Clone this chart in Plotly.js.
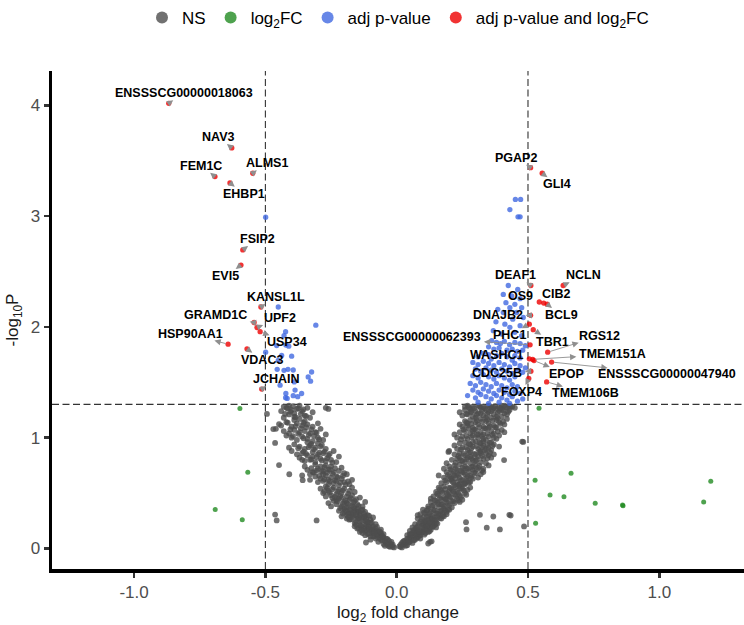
<!DOCTYPE html>
<html>
<head>
<meta charset="utf-8">
<script src="https://cdn.plot.ly/plotly-3.0.1.min.js"></script>
<style>html,body{margin:0;padding:0;background:#fff;}#chart{width:744px;height:625px;}</style>
</head>
<body>
<div id="chart"></div>
<script>
// ---------------- DATA ----------------
const fcCutoff = 0.5;
const pCutoff = 0.05;

// Not significant (grey) [log2FC, -log10P]
const nsPts = [
// left arm
[-0.01,0.01],[-0.02,0.03],[-0.03,0.02],[-0.04,0.05],[-0.05,0.04],[-0.03,0.07],[-0.06,0.08],[-0.05,0.10],[-0.07,0.06],[-0.08,0.09],[-0.02,0.06],[-0.04,0.09],[-0.09,0.11],[-0.06,0.12],[-0.10,0.08],
[-0.05,0.13],[-0.07,0.15],[-0.09,0.14],[-0.11,0.13],[-0.08,0.18],[-0.10,0.17],[-0.12,0.16],[-0.06,0.17],[-0.13,0.19],[-0.11,0.20],[-0.09,0.20],[-0.14,0.15],[-0.07,0.12],[-0.15,0.18],[-0.12,0.12],[-0.10,0.11],[-0.08,0.16],[-0.13,0.14],[-0.06,0.14],[-0.16,0.20],[-0.11,0.18],[-0.09,0.17],[-0.14,0.21],[-0.12,0.22],[-0.10,0.23],
[-0.08,0.22],[-0.10,0.26],[-0.12,0.25],[-0.14,0.24],[-0.16,0.23],[-0.18,0.26],[-0.13,0.28],[-0.15,0.29],[-0.11,0.30],[-0.17,0.31],[-0.19,0.30],[-0.14,0.32],[-0.16,0.34],[-0.12,0.33],[-0.20,0.33],[-0.18,0.35],[-0.09,0.28],[-0.21,0.29],[-0.15,0.27],[-0.17,0.28],[-0.13,0.35],[-0.16,0.36],[-0.19,0.27],[-0.11,0.24],[-0.14,0.30],[-0.20,0.36],[-0.22,0.34],[-0.12,0.29],[-0.18,0.32],[-0.15,0.33],
[-0.13,0.38],[-0.15,0.40],[-0.17,0.39],[-0.19,0.37],[-0.21,0.38],[-0.23,0.40],[-0.16,0.43],[-0.18,0.44],[-0.20,0.42],[-0.22,0.45],[-0.24,0.43],[-0.26,0.41],[-0.14,0.46],[-0.17,0.48],[-0.19,0.47],[-0.21,0.50],[-0.23,0.49],[-0.25,0.48],[-0.27,0.47],[-0.18,0.52],[-0.20,0.54],[-0.22,0.53],[-0.24,0.55],[-0.26,0.52],[-0.28,0.50],[-0.16,0.51],[-0.15,0.36],[-0.25,0.38],[-0.12,0.42],[-0.29,0.54],[-0.21,0.46],[-0.23,0.44],[-0.19,0.41],[-0.27,0.56],[-0.17,0.55],
[-0.18,0.58],[-0.20,0.60],[-0.22,0.57],[-0.24,0.59],[-0.26,0.58],[-0.28,0.61],[-0.30,0.60],[-0.21,0.63],[-0.23,0.65],[-0.25,0.64],[-0.27,0.66],[-0.29,0.63],[-0.31,0.65],[-0.33,0.62],[-0.19,0.67],[-0.22,0.70],[-0.24,0.69],[-0.26,0.71],[-0.28,0.70],[-0.30,0.72],[-0.32,0.69],[-0.34,0.71],[-0.25,0.74],[-0.27,0.75],[-0.29,0.74],[-0.31,0.76],[-0.21,0.73],[-0.35,0.74],[-0.23,0.61],[-0.17,0.62],[-0.33,0.67],[-0.36,0.66],[-0.20,0.68],[-0.26,0.62],[-0.28,0.67],
[-0.23,0.78],[-0.25,0.80],[-0.27,0.79],[-0.29,0.81],[-0.31,0.78],[-0.33,0.80],[-0.35,0.79],[-0.37,0.82],[-0.26,0.84],[-0.28,0.86],[-0.30,0.85],[-0.32,0.87],[-0.34,0.84],[-0.36,0.86],[-0.38,0.85],[-0.40,0.88],[-0.27,0.90],[-0.29,0.92],[-0.31,0.91],[-0.33,0.93],[-0.35,0.90],[-0.37,0.92],[-0.39,0.94],[-0.24,0.88],[-0.41,0.91],[-0.30,0.95],[-0.34,0.96],[-0.22,0.83],[-0.36,0.80],[-0.32,0.83],
[-0.28,0.98],[-0.30,1.00],[-0.32,0.97],[-0.34,0.99],[-0.36,1.01],[-0.38,0.98],[-0.40,1.00],[-0.42,1.02],[-0.31,1.05],[-0.33,1.04],[-0.35,1.06],[-0.37,1.05],[-0.39,1.07],[-0.41,1.04],[-0.43,1.06],[-0.29,1.08],[-0.32,1.10],[-0.34,1.12],[-0.36,1.11],[-0.38,1.13],[-0.40,1.10],[-0.44,1.11],[-0.27,1.03],[-0.30,1.13],[-0.35,1.15],[-0.39,1.16],[-0.46,1.08],[-0.42,1.14],
[-0.33,1.18],[-0.35,1.20],[-0.37,1.17],[-0.39,1.19],[-0.41,1.21],[-0.43,1.18],[-0.36,1.24],[-0.38,1.26],[-0.40,1.25],[-0.42,1.27],[-0.44,1.24],[-0.34,1.27],[-0.37,1.29],[-0.41,1.29],[-0.43,1.28],[-0.39,1.22],[-0.32,1.23],[-0.27,1.27],[-0.26,1.26],
[-0.494,1.215],[-0.448,1.123],[-0.470,1.078],[-0.463,0.953],[-0.448,0.753],[-0.409,0.670],[-0.358,0.617],[-0.463,0.306],[-0.457,0.253],[-0.305,0.253],[-0.117,0.054],
[-0.015,0.015],[-0.025,0.045],[-0.035,0.035],[-0.045,0.065],[-0.055,0.075],[-0.065,0.095],[-0.035,0.085],[-0.075,0.105],[-0.015,0.035],[-0.025,0.015],[-0.045,0.025],[-0.085,0.115],
[-0.055,0.115],[-0.075,0.135],[-0.095,0.155],[-0.115,0.165],[-0.065,0.155],[-0.085,0.145],[-0.105,0.135],[-0.125,0.175],[-0.135,0.205],[-0.095,0.185],[-0.075,0.195],[-0.145,0.185],[-0.115,0.215],[-0.105,0.195],[-0.135,0.165],[-0.155,0.215],
[-0.095,0.235],[-0.115,0.265],[-0.135,0.255],[-0.155,0.245],[-0.175,0.265],[-0.125,0.285],[-0.145,0.275],[-0.165,0.295],[-0.185,0.315],[-0.105,0.295],[-0.125,0.315],[-0.145,0.335],[-0.165,0.325],[-0.195,0.345],[-0.175,0.345],[-0.135,0.345],[-0.205,0.315],[-0.155,0.305],[-0.185,0.285],[-0.115,0.245],
[-0.145,0.385],[-0.165,0.415],[-0.185,0.395],[-0.205,0.405],[-0.225,0.425],[-0.245,0.455],[-0.175,0.455],[-0.195,0.435],[-0.215,0.475],[-0.235,0.465],[-0.255,0.505],[-0.185,0.495],[-0.205,0.525],[-0.225,0.515],[-0.245,0.535],[-0.265,0.545],[-0.165,0.375],[-0.215,0.365],[-0.155,0.445],[-0.275,0.515],
[-0.195,0.575],[-0.215,0.595],[-0.235,0.615],[-0.255,0.605],[-0.275,0.625],[-0.295,0.655],[-0.225,0.645],[-0.245,0.675],[-0.265,0.685],[-0.285,0.695],[-0.305,0.705],[-0.235,0.725],[-0.255,0.715],[-0.275,0.735],[-0.315,0.685],[-0.325,0.725],[-0.205,0.655],[-0.185,0.605],
[-0.245,0.775],[-0.265,0.815],[-0.285,0.795],[-0.305,0.825],[-0.325,0.805],[-0.345,0.855],[-0.275,0.875],[-0.295,0.865],[-0.315,0.895],[-0.335,0.915],[-0.355,0.875],[-0.375,0.905],[-0.255,0.855],[-0.285,0.935],[-0.325,0.945],
[-0.295,0.985],[-0.315,1.015],[-0.335,1.025],[-0.355,0.995],[-0.375,1.035],[-0.395,1.015],[-0.325,1.075],[-0.345,1.095],[-0.365,1.085],[-0.385,1.105],[-0.405,1.075],[-0.415,1.135],[-0.355,1.135],[-0.305,1.045],
[-0.345,1.195],[-0.365,1.215],[-0.385,1.185],[-0.405,1.235],[-0.425,1.215],[-0.375,1.265],[-0.395,1.285],[-0.355,1.255],[-0.415,1.265],
// right arm
[0.01,0.02],[0.02,0.01],[0.03,0.04],[0.04,0.03],[0.05,0.06],[0.03,0.07],[0.06,0.05],[0.07,0.08],[0.04,0.09],[0.08,0.10],[0.05,0.10],[0.02,0.05],[0.06,0.11],[0.09,0.09],[0.07,0.12],
[0.04,0.12],[0.06,0.14],[0.08,0.13],[0.10,0.15],[0.05,0.16],[0.07,0.17],[0.09,0.16],[0.11,0.18],[0.13,0.17],[0.06,0.19],[0.08,0.20],[0.10,0.19],[0.12,0.21],[0.14,0.20],[0.09,0.12],[0.11,0.14],[0.07,0.15],[0.13,0.22],[0.15,0.19],[0.10,0.22],[0.08,0.17],[0.12,0.15],[0.05,0.13],[0.14,0.23],[0.11,0.23],
[0.07,0.22],[0.09,0.24],[0.11,0.25],[0.13,0.24],[0.15,0.26],[0.08,0.27],[0.10,0.28],[0.12,0.29],[0.14,0.28],[0.16,0.30],[0.18,0.29],[0.09,0.31],[0.11,0.32],[0.13,0.33],[0.15,0.32],[0.17,0.34],[0.19,0.33],[0.10,0.35],[0.12,0.36],[0.14,0.35],[0.16,0.37],[0.18,0.36],[0.13,0.27],[0.17,0.27],[0.11,0.21],[0.20,0.35],[0.15,0.23],[0.08,0.30],[0.19,0.31],[0.12,0.26],
[0.12,0.38],[0.14,0.39],[0.16,0.40],[0.18,0.38],[0.20,0.39],[0.22,0.41],[0.13,0.42],[0.15,0.43],[0.17,0.44],[0.19,0.42],[0.21,0.43],[0.23,0.45],[0.25,0.44],[0.14,0.47],[0.16,0.48],[0.18,0.46],[0.20,0.47],[0.22,0.49],[0.24,0.48],[0.26,0.50],[0.15,0.51],[0.17,0.52],[0.19,0.50],[0.21,0.53],[0.23,0.52],[0.25,0.54],[0.27,0.53],[0.16,0.55],[0.18,0.56],[0.20,0.55],[0.22,0.57],[0.24,0.56],[0.26,0.58],[0.17,0.40],[0.19,0.45],[0.21,0.37],[0.13,0.45],[0.24,0.42],[0.28,0.55],[0.20,0.51],
[0.17,0.59],[0.19,0.60],[0.21,0.61],[0.23,0.60],[0.25,0.62],[0.27,0.61],[0.29,0.63],[0.18,0.64],[0.20,0.65],[0.22,0.66],[0.24,0.64],[0.26,0.67],[0.28,0.66],[0.30,0.68],[0.32,0.67],[0.19,0.69],[0.21,0.70],[0.23,0.71],[0.25,0.69],[0.27,0.72],[0.29,0.71],[0.31,0.73],[0.33,0.72],[0.20,0.74],[0.22,0.75],[0.24,0.76],[0.26,0.74],[0.28,0.77],[0.30,0.76],[0.32,0.78],[0.34,0.77],[0.18,0.72],[0.16,0.66],[0.26,0.59],[0.31,0.64],[0.23,0.68],[0.27,0.65],[0.21,0.63],[0.29,0.74],[0.25,0.73],[0.35,0.75],[0.19,0.77],[0.28,0.60],[0.33,0.69],[0.24,0.58],
[0.21,0.80],[0.23,0.81],[0.25,0.79],[0.27,0.82],[0.29,0.80],[0.31,0.83],[0.33,0.81],[0.35,0.84],[0.22,0.85],[0.24,0.86],[0.26,0.84],[0.28,0.87],[0.30,0.85],[0.32,0.88],[0.34,0.86],[0.36,0.89],[0.23,0.90],[0.25,0.91],[0.27,0.89],[0.29,0.92],[0.31,0.90],[0.33,0.93],[0.35,0.91],[0.37,0.94],[0.24,0.95],[0.26,0.96],[0.28,0.94],[0.30,0.97],[0.32,0.95],[0.34,0.98],[0.36,0.96],[0.38,0.99],[0.20,0.88],[0.22,0.93],[0.39,0.92],[0.37,0.85],[0.26,0.78],[0.30,0.79],[0.34,0.90],[0.28,0.83],[0.32,0.86],[0.24,0.82],[0.36,0.82],[0.29,0.96],[0.33,0.97],
[0.23,1.00],[0.25,1.01],[0.27,0.99],[0.29,1.02],[0.31,1.00],[0.33,1.03],[0.35,1.01],[0.37,1.04],[0.39,1.02],[0.24,1.05],[0.26,1.06],[0.28,1.04],[0.30,1.07],[0.32,1.05],[0.34,1.08],[0.36,1.06],[0.38,1.09],[0.40,1.07],[0.25,1.10],[0.27,1.11],[0.29,1.09],[0.31,1.12],[0.33,1.10],[0.35,1.13],[0.37,1.11],[0.39,1.14],[0.41,1.12],[0.26,1.15],[0.28,1.16],[0.30,1.14],[0.32,1.17],[0.34,1.15],[0.36,1.18],[0.38,1.16],[0.40,1.19],[0.42,1.17],[0.22,1.03],[0.24,1.12],[0.33,0.99],[0.37,1.00],[0.41,1.05],[0.29,1.06],[0.35,1.09],[0.31,1.03],[0.27,1.13],
[0.25,1.20],[0.27,1.21],[0.29,1.19],[0.31,1.22],[0.33,1.20],[0.35,1.23],[0.37,1.21],[0.39,1.24],[0.41,1.22],[0.43,1.25],[0.26,1.25],[0.28,1.26],[0.30,1.24],[0.32,1.27],[0.34,1.25],[0.36,1.28],[0.38,1.26],[0.40,1.29],[0.42,1.27],[0.44,1.28],[0.27,1.29],[0.29,1.28],[0.31,1.29],[0.33,1.28],[0.35,1.29],[0.37,1.27],[0.39,1.28],[0.41,1.29],[0.24,1.23],[0.30,1.18],[0.34,1.18],[0.38,1.19],[0.42,1.21],[0.36,1.24],[0.32,1.22],[0.40,1.26],[0.28,1.23],[0.26,1.28],[0.43,1.29],[0.45,1.27],
[0.120,0.045],[0.127,0.060],[0.133,0.065],[0.264,0.238],[0.266,0.172],[0.317,0.304],[0.368,0.289],[0.429,0.304],[0.343,0.188],[0.393,0.172],[0.485,0.199],[0.482,0.962],[0.409,0.798],[0.197,0.872],[0.434,0.298],[0.478,0.965],[0.434,1.280],
[0.015,0.015],[0.025,0.035],[0.035,0.025],[0.045,0.055],[0.055,0.085],[0.065,0.075],[0.035,0.055],[0.075,0.095],[0.015,0.035],[0.085,0.115],[0.025,0.065],[0.045,0.075],
[0.055,0.125],[0.075,0.135],[0.095,0.145],[0.115,0.165],[0.065,0.165],[0.085,0.155],[0.105,0.175],[0.125,0.185],[0.135,0.195],[0.095,0.205],[0.075,0.185],[0.145,0.215],[0.115,0.205],[0.105,0.125],[0.125,0.155],[0.155,0.225],
[0.085,0.225],[0.105,0.245],[0.125,0.235],[0.145,0.255],[0.165,0.275],[0.095,0.265],[0.115,0.285],[0.135,0.295],[0.155,0.285],[0.175,0.315],[0.105,0.325],[0.125,0.315],[0.145,0.345],[0.165,0.335],[0.185,0.345],[0.135,0.265],[0.155,0.315],[0.115,0.345],[0.175,0.295],[0.195,0.355],
[0.135,0.385],[0.155,0.415],[0.175,0.395],[0.195,0.405],[0.215,0.425],[0.235,0.435],[0.145,0.435],[0.165,0.455],[0.185,0.445],[0.205,0.465],[0.225,0.475],[0.245,0.465],[0.155,0.495],[0.175,0.505],[0.195,0.485],[0.215,0.515],[0.235,0.505],[0.255,0.525],[0.265,0.485],[0.185,0.535],[0.205,0.545],[0.225,0.555],[0.245,0.545],[0.165,0.535],
[0.185,0.615],[0.205,0.625],[0.225,0.635],[0.245,0.615],[0.265,0.635],[0.285,0.645],[0.195,0.665],[0.215,0.675],[0.235,0.665],[0.255,0.685],[0.275,0.695],[0.295,0.685],[0.305,0.715],[0.205,0.715],[0.225,0.725],[0.245,0.705],[0.265,0.725],[0.285,0.735],[0.315,0.745],[0.325,0.705],[0.235,0.575],[0.255,0.585],[0.215,0.595],[0.275,0.595],
[0.225,0.775],[0.245,0.795],[0.265,0.805],[0.285,0.815],[0.305,0.805],[0.325,0.835],[0.345,0.815],[0.235,0.835],[0.255,0.855],[0.275,0.865],[0.295,0.855],[0.315,0.875],[0.335,0.885],[0.355,0.865],[0.245,0.895],[0.265,0.915],[0.285,0.905],[0.305,0.925],[0.325,0.915],[0.345,0.935],[0.365,0.925],[0.275,0.945],[0.315,0.955],[0.355,0.955],
[0.245,0.985],[0.265,1.015],[0.285,1.005],[0.305,1.025],[0.325,1.015],[0.345,1.035],[0.365,1.025],[0.385,1.055],[0.255,1.075],[0.275,1.085],[0.295,1.075],[0.315,1.095],[0.335,1.085],[0.355,1.105],[0.375,1.095],[0.395,1.125],[0.265,1.135],[0.285,1.125],[0.305,1.155],[0.325,1.145],[0.345,1.165],[0.365,1.155],[0.385,1.175],[0.405,1.145],
[0.265,1.215],[0.285,1.235],[0.305,1.205],[0.325,1.245],[0.345,1.215],[0.365,1.255],[0.385,1.225],[0.405,1.245],[0.425,1.235],[0.275,1.275],[0.295,1.265],[0.315,1.285],[0.335,1.265],[0.355,1.275],[0.375,1.285],[0.395,1.265],[0.415,1.275]
];

// log2FC only (green)
const fcPts = [
[-0.597,1.263],[-0.567,0.688],[-0.691,0.351],[-0.588,0.259],
[0.542,1.265],[0.527,0.617],[0.664,0.679],[0.584,0.483],[0.637,0.467],[0.756,0.408],[0.860,0.393],[0.862,0.385],[1.169,0.420],[1.196,0.608],[0.529,0.229]
];

// adj p-value only (blue)
const pPts = [
[-0.499,2.990],[-0.451,2.180],[-0.308,2.016],[-0.423,1.957],[-0.429,1.921],[-0.457,1.832],[-0.422,1.837],[-0.411,1.826],[-0.499,1.772],[-0.438,1.743],[-0.400,1.736],[-0.451,1.698],[-0.455,1.617],[-0.429,1.608],[-0.414,1.617],[-0.394,1.611],[-0.324,1.593],[-0.337,1.549],[-0.328,1.510],[-0.444,1.474],[-0.390,1.504],[-0.387,1.430],[-0.422,1.399],[-0.423,1.361],[-0.394,1.379],[-0.377,1.370],[-0.362,1.399],[-0.417,1.355],
[0.452,3.151],[0.472,3.151],[0.431,3.059],[0.462,2.994],[0.470,2.994],
[0.425,2.374],[0.461,2.338],[0.406,2.293],[0.438,2.279],[0.470,2.255],[0.416,2.219],[0.450,2.204],[0.431,2.174],[0.476,2.174],[0.385,2.159],[0.406,2.130],[0.457,2.130],[0.482,2.085],[0.442,2.070],[0.378,2.046],[0.412,2.025],[0.470,2.011],[0.431,1.996],[0.368,1.966],[0.450,1.951],[0.400,1.936],[0.476,1.921],
[0.362,1.877],[0.380,1.860],[0.395,1.850],[0.410,1.870],[0.430,1.840],[0.450,1.860],[0.470,1.850],[0.490,1.830],[0.350,1.820],[0.370,1.800],[0.390,1.810],[0.420,1.790],[0.440,1.800],[0.460,1.780],[0.480,1.790],[0.330,1.760],[0.350,1.750],[0.380,1.740],[0.400,1.760],[0.420,1.730],[0.450,1.740],[0.470,1.720],[0.310,1.730],[0.360,1.710],[0.440,1.700],
[0.290,1.680],[0.310,1.660],[0.330,1.690],[0.350,1.670],[0.370,1.650],[0.390,1.680],[0.410,1.660],[0.430,1.640],[0.450,1.670],[0.470,1.650],[0.490,1.630],[0.300,1.620],[0.320,1.600],[0.340,1.630],[0.360,1.610],[0.380,1.590],[0.400,1.620],[0.420,1.600],[0.440,1.580],[0.460,1.610],[0.480,1.590],[0.290,1.560],[0.310,1.540],[0.330,1.570],[0.350,1.550],[0.370,1.530],[0.390,1.560],[0.410,1.540],[0.430,1.520],[0.450,1.550],
[0.280,1.490],[0.300,1.470],[0.320,1.500],[0.340,1.480],[0.360,1.460],[0.380,1.490],[0.400,1.470],[0.420,1.450],[0.440,1.480],[0.460,1.460],[0.290,1.430],[0.310,1.410],[0.330,1.440],[0.350,1.420],[0.370,1.400],[0.390,1.430],[0.410,1.410],[0.430,1.390],[0.450,1.420],[0.470,1.400],[0.270,1.380],[0.300,1.360],[0.320,1.390],[0.340,1.370],[0.360,1.350],[0.380,1.380],[0.400,1.360],[0.420,1.340],[0.440,1.370],[0.460,1.330],[0.310,1.320],[0.350,1.310],[0.390,1.320],[0.430,1.310],[0.480,1.350]
];

// adj p-value and log2FC (red), labelled
const sigGenes = ['ENSSSCG00000018063','NAV3','FEM1C','ALMS1','EHBP1','FSIP2','EVI5','KANSL1L','GRAMD1C','UPF2','USP34','HSP90AA1','VDAC3','JCHAIN',
  'PGAP2','GLI4','DEAF1','NCLN','OS9','CIB2','BCL9','DNAJB2','PHC1','TBR1','ENSSSCG00000062393','RGS12','WASHC1','TMEM151A','EPOP','ENSSSCG00000047940','CDC25B','FOXP4','TMEM106B'];
const sigFC = [-0.868,-0.628,-0.692,-0.548,-0.635,-0.586,-0.593,-0.517,-0.543,-0.532,-0.520,-0.642,-0.570,-0.514,
  0.510,0.554,0.511,0.634,0.543,0.560,0.573,0.510,0.505,0.520,0.508,0.575,0.505,0.518,0.523,0.590,0.511,0.503,0.571];
const sigP = [4.018,3.616,3.357,3.387,3.300,2.695,2.558,2.180,2.040,1.995,1.957,1.844,1.802,1.439,
  3.437,3.387,2.374,2.374,2.225,2.215,2.205,2.105,2.025,1.975,1.838,1.772,1.712,1.707,1.696,1.683,1.600,1.535,1.504];

const legendNames = ['NS','log<sub>2</sub>FC','adj p-value','adj p-value and log<sub>2</sub>FC'];
const xTickVals = [-1.0,-0.5,0.0,0.5,1.0];
const xTickText = ['-1.0','-0.5','0.0','0.5','1.0'];
const yTickVals = [0,1,2,3,4];
const yTickText = ['0','1','2','3','4'];

// ---------------- LABEL PLACEMENT (pixel offsets of label centre from point) ----------------
const labelOffset = {
  'ENSSSCG00000018063':[15,-10],'NAV3':[-14,-11],'FEM1C':[-14,-11],'ALMS1':[14,-10],'EHBP1':[14,11],
  'FSIP2':[15,-11],'EVI5':[-15,11],'KANSL1L':[15,-10],'GRAMD1C':[-39,-7],'UPF2':[23,-9],'USP34':[27,10],
  'HSP90AA1':[-38,-10],'VDAC3':[15,11],'JCHAIN':[15,-10],
  'PGAP2':[-15,-10],'GLI4':[15,11],'DEAF1':[-15,-10],'NCLN':[20,-10],'OS9':[-19,-6],'CIB2':[13,-9],
  'BCL9':[14,11],'DNAJB2':[-33,0],'PHC1':[-20,11],'TBR1':[19,12],'ENSSSCG00000062393':[-118,-8],
  'RGS12':[52,-16],'WASHC1':[-32,-4],'TMEM151A':[80,-5],'EPOP':[32,13],'ENSSSCG00000047940':[115,12],
  'CDC25B':[-34,2],'FOXP4':[-7,14],'TMEM106B':[39,11]
};

// ---------------- STYLE ----------------
const narrow = "'Liberation Sans Narrow','Arial Narrow','Liberation Sans',Arial,sans-serif";
const labelFamily = "'Liberation Sans',Arial,sans-serif";
const labelSize = 12.5;
const colors = ['rgba(77,77,77,0.8)','rgba(34,139,34,0.8)','rgba(65,105,225,0.8)','rgba(238,0,0,0.8)'];

function mk(pts, i, sz){
  return {type:'scatter', mode:'markers', name:legendNames[i],
    x: pts.map(p=>p[0]), y: pts.map(p=>p[1]),
    marker:{color:colors[i], size:sz, line:{width:0}}, hoverinfo:'skip', cliponaxis:false};
}
const traces = [
  mk(nsPts,0,5.8), mk(fcPts,1,5), mk(pPts,2,5.3),
  {type:'scatter', mode:'markers', name:legendNames[3], x:sigFC, y:sigP,
   marker:{color:colors[3], size:5.3, line:{width:0}}, hoverinfo:'skip', cliponaxis:false}
];

const pLine = -Math.log10(pCutoff);
const dashStyle = {color:'#333333', width:1.1, dash:'7px,3.5px'};
const shapes = [
  {type:'line', xref:'x', yref:'paper', x0:-fcCutoff, x1:-fcCutoff, y0:0, y1:1, line:dashStyle, layer:'below'},
  {type:'line', xref:'x', yref:'paper', x0:fcCutoff, x1:fcCutoff, y0:0, y1:1, line:dashStyle, layer:'below'},
  {type:'line', xref:'paper', yref:'y', x0:0, x1:1, y0:pLine, y1:pLine, line:dashStyle, layer:'below'}
];

// measure label widths so connectors stop at the glyph box (like ggrepel)
const ctx = document.createElement('canvas').getContext('2d');
ctx.font = 'bold ' + labelSize + 'px "Liberation Sans", Arial, sans-serif';
function arrowTail(dx, dy, w){
  const hx = w/2 + 1.5, hy = 6;
  const tx = dx !== 0 ? hx/Math.abs(dx) : Infinity;
  const ty = dy !== 0 ? hy/Math.abs(dy) : Infinity;
  const f = Math.max(0, 1 - Math.min(tx, ty));
  return [dx*f, dy*f];
}

const annotations = [];
sigGenes.forEach((g,i)=>{
  const [dx, dy] = labelOffset[g];
  const w = ctx.measureText(g).width;
  const [tx, ty] = arrowTail(dx, dy, w);
  if (Math.hypot(tx, ty) > 3) {
    annotations.push({x:sigFC[i], y:sigP[i], xref:'x', yref:'y', text:'', showarrow:true,
      arrowside:'start', startarrowhead:2, startarrowsize:1.4, arrowwidth:0.9, arrowcolor:'#8f8f8f',
      ax:tx, ay:ty, standoff:2.5});
  }
  annotations.push({x:sigFC[i], y:sigP[i], xref:'x', yref:'y', text:'<b>'+g+'</b>', showarrow:false,
    xshift:dx, yshift:-dy, xanchor:'center', yanchor:'middle', borderpad:0,
    font:{family:labelFamily, size:labelSize, color:'#000'}});
});

const axisCommon = {
  showgrid:false, zeroline:false, showline:true, linewidth:3.5, linecolor:'#000',
  ticks:'outside', ticklen:5, tickwidth:2.5, tickcolor:'#333',
  tickfont:{family:narrow, size:17, color:'#4d4d4d'}, automargin:false, fixedrange:true
};

const layout = {
  width:744, height:625,
  margin:{l:52, r:0, t:66, b:56, pad:0},
  paper_bgcolor:'#fff', plot_bgcolor:'#fff',
  xaxis: Object.assign({}, axisCommon, {range:[-1.3126,1.3226], tickvals:xTickVals, ticktext:xTickText,
     title:{text:'log<sub>2</sub> fold change', font:{family:narrow, size:17, color:'#1a1a1a'}, standoff:6}}),
  yaxis: Object.assign({}, axisCommon, {range:[-0.185,4.31], tickvals:yTickVals, ticktext:yTickText,
     title:{text:'-log<sub>10</sub>P', font:{family:narrow, size:17, color:'#1a1a1a'}, standoff:8}}),
  showlegend:true,
  legend:{orientation:'h', x:0.5, xanchor:'center', y:1.107, yanchor:'middle',
    font:{family:narrow, size:17, color:'#000'}, itemsizing:'constant', bgcolor:'rgba(0,0,0,0)'},
  shapes: shapes,
  annotations: annotations
};

Plotly.newPlot('chart', traces, layout, {displayModeBar:false, staticPlot:true});
</script>
</body>
</html>
